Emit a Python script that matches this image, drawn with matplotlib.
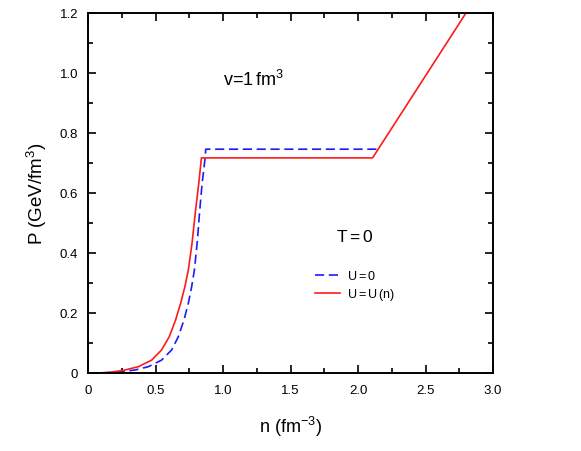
import matplotlib
matplotlib.use("Agg")
import matplotlib.pyplot as plt
from matplotlib.ticker import MultipleLocator, FuncFormatter

plt.rcParams['font.family'] = ['Liberation Sans', 'DejaVu Sans']
plt.rcParams['mathtext.fontset'] = 'custom'
plt.rcParams['mathtext.rm'] = 'Liberation Sans'

# Data
n_u0 = [0.0, 0.1, 0.225, 0.348, 0.447, 0.545, 0.62, 0.669, 0.711, 0.743, 0.768,
        0.788, 0.81, 0.827, 0.845, 0.858, 0.868, 0.872, 2.148]
P_u0 = [0.0, 0.0, 0.003, 0.010, 0.021, 0.043, 0.077, 0.121, 0.177, 0.232, 0.288,
        0.343, 0.44, 0.539, 0.63, 0.68, 0.72, 0.746, 0.746]

n_un = [0.0, 0.075, 0.175, 0.274, 0.373, 0.472, 0.545, 0.602, 0.649, 0.686, 0.718,
        0.743, 0.77, 0.796, 0.82, 0.84, 2.108, 2.80]
P_un = [0.0, 0.0, 0.003, 0.010, 0.021, 0.043, 0.077, 0.121, 0.177, 0.232, 0.288,
        0.343, 0.43, 0.539, 0.63, 0.717, 0.717, 1.2]

fig = plt.figure(figsize=(5.81, 4.52), dpi=100)
ax = fig.add_axes([88/581, 1-374/452, (493-88)/581, (374-14)/452])

ax.plot(n_u0, P_u0, color='#1a1aff', lw=1.2, dashes=(5.5, 2.8), label='U$\\,$=$\\,$0')
ax.plot(n_un, P_un, color='#ff1a1a', lw=1.2, label='U$\\,$=$\\,$U$\\,$(n)')

ax.set_xlim(0, 3.0)
ax.set_ylim(0, 1.2)
ax.xaxis.set_major_locator(MultipleLocator(0.5))
ax.xaxis.set_minor_locator(MultipleLocator(0.25))
ax.yaxis.set_major_locator(MultipleLocator(0.2))
ax.yaxis.set_minor_locator(MultipleLocator(0.1))

fmt = FuncFormatter(lambda v, p: '0' if abs(v) < 1e-9 else f'{v:.1f}')
ax.xaxis.set_major_formatter(fmt)
ax.yaxis.set_major_formatter(fmt)

ax.tick_params(which='both', direction='in', top=True, right=True, width=1.2,
               labelsize=9.5, colors='black')
ax.tick_params(which='major', length=6)
ax.tick_params(which='minor', length=3.5)
ax.tick_params(axis='x', which='major', pad=8)
ax.tick_params(axis='y', which='major', pad=7)
for s in ax.spines.values():
    s.set_linewidth(1.4)

ax.set_xlabel('n (fm$^{-3}$)', fontsize=13, labelpad=13)
ax.set_ylabel('P (GeV/fm$^{3}$)', fontsize=13.5, labelpad=8)

ax.text(1.0, 0.98, 'v=1$\\,$fm$^{3}$', fontsize=13, ha='left', va='center')
ax.text(1.835, 0.457, 'T$\\,$=$\\,$0', fontsize=12.5, ha='left', va='center')

ax.legend(loc='upper left', bbox_to_anchor=(0.56, 0.288), frameon=False,
          fontsize=9, handlelength=2.0, handletextpad=0.55, labelspacing=0.3,
          borderaxespad=0, borderpad=0)

fig.savefig('out.png', dpi=100)
